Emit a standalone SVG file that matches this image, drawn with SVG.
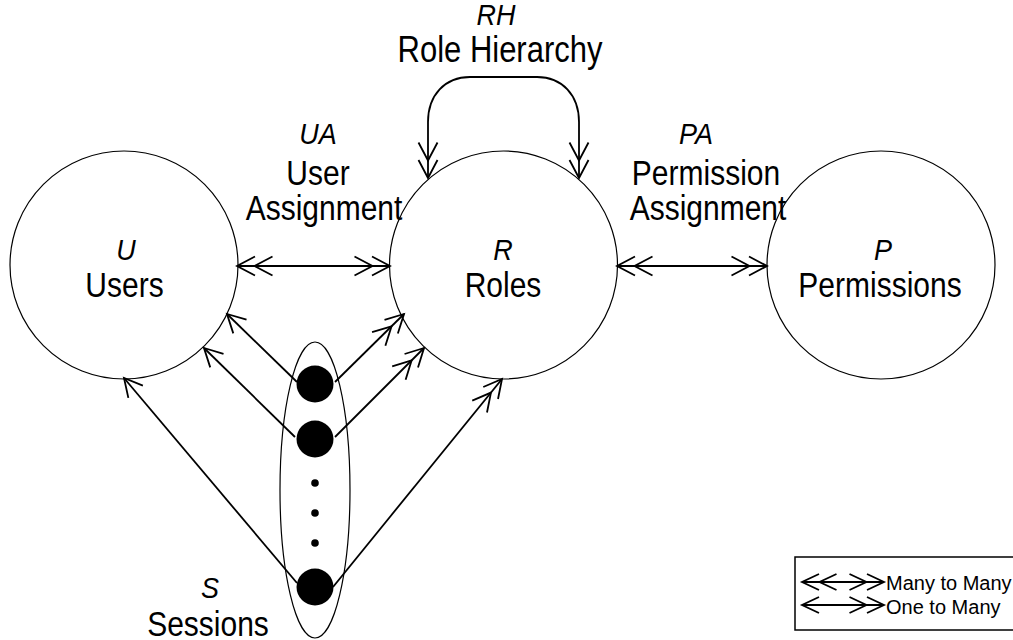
<svg xmlns="http://www.w3.org/2000/svg" width="1013" height="640" viewBox="0 0 1013 640">
  <style>
    .ent { fill: #fff; stroke: #000; stroke-width: 1.2; }
    .set { fill: none; stroke: #000; stroke-width: 1.2; }
    .con { fill: none; stroke: #000; stroke-width: 1.8; }
    .head { fill: none; stroke: #000; stroke-width: 1.8; }
    .name { font-family: "Liberation Sans", Arial, sans-serif; font-size: 30px; text-anchor: middle; fill: #000; }
    .abbr { font-family: "Liberation Sans", Arial, sans-serif; font-size: 27px; font-style: italic; text-anchor: middle; fill: #000; }
    .key { font-family: "Liberation Sans", Arial, sans-serif; font-size: 20px; fill: #000; }
    .dot { fill: #000; }
  </style>
  <defs>
    <!-- open chevron heads; tip sits on the path end -->
    <marker id="many" markerUnits="userSpaceOnUse" viewBox="-40 -12 42 24" refX="0" refY="0" markerWidth="42" markerHeight="24" orient="auto-start-reverse" overflow="visible">
      <path class="head" d="M-18,-9.5 L0,0 L-18,9.5 M-35.5,-9.5 L-17.5,0 L-35.5,9.5"/>
    </marker>
    <marker id="one" markerUnits="userSpaceOnUse" viewBox="-22 -12 24 24" refX="0" refY="0" markerWidth="24" markerHeight="24" orient="auto-start-reverse" overflow="visible">
      <path class="head" d="M-18,-9.5 L0,0 L-18,9.5"/>
    </marker>
    <marker id="manyS" markerUnits="userSpaceOnUse" viewBox="-40 -12 42 24" refX="0" refY="0" markerWidth="42" markerHeight="24" orient="auto-start-reverse" overflow="visible">
      <path class="head" d="M-17,-8 L0,0 L-17,8 M-34.5,-8 L-17.5,0 L-34.5,8"/>
    </marker>
    <marker id="oneS" markerUnits="userSpaceOnUse" viewBox="-22 -12 24 24" refX="0" refY="0" markerWidth="24" markerHeight="24" orient="auto-start-reverse" overflow="visible">
      <path class="head" d="M-17,-8 L0,0 L-17,8"/>
    </marker>
  </defs>

  <!-- entity sets -->
  <g id="users">
    <circle class="ent" cx="124" cy="265" r="114"/>
    <text class="abbr" transform="translate(126,260) scale(1,1.12)">U</text>
    <text class="name" transform="translate(124.5,297) scale(1,1.18)">Users</text>
  </g>
  <g id="roles">
    <circle class="ent" cx="503.5" cy="265" r="114"/>
    <text class="abbr" transform="translate(503,260) scale(1,1.12)">R</text>
    <text class="name" transform="translate(503,297) scale(1,1.18)">Roles</text>
  </g>
  <g id="permissions">
    <circle class="ent" cx="881" cy="265" r="114"/>
    <text class="abbr" transform="translate(883,260) scale(1,1.12)">P</text>
    <text class="name" transform="translate(880,297) scale(1,1.18)">Permissions</text>
  </g>
  <g id="sessions">
    <ellipse class="set" cx="315" cy="490" rx="35" ry="148"/>
    <text class="abbr" transform="translate(210,598) scale(1,1.12)">S</text>
    <text class="name" transform="translate(208,636) scale(1,1.18)">Sessions</text>
  </g>

  <!-- relation labels -->
  <g id="rh-label">
    <text class="abbr" transform="translate(496,25) scale(1,1.12)">RH</text>
    <text class="name" transform="translate(500,62) scale(1,1.18)" style="font-size:31px">Role Hierarchy</text>
  </g>
  <g id="ua-label">
    <text class="abbr" transform="translate(318,144) scale(1,1.12)">UA</text>
    <text class="name" transform="translate(318,185) scale(1,1.18)">User</text>
    <text class="name" transform="translate(324,220) scale(1,1.18)">Assignment</text>
  </g>
  <g id="pa-label">
    <text class="abbr" transform="translate(696,144) scale(1,1.12)">PA</text>
    <text class="name" transform="translate(706,185) scale(1,1.18)">Permission</text>
    <text class="name" transform="translate(708,220) scale(1,1.18)">Assignment</text>
  </g>

  <!-- connectors -->
  <g id="connectors">
    <path class="con" d="M428,178 V122 C428,95 445,77 470,77 H537 C562,77 579,95 579,122 V178" marker-start="url(#many)" marker-end="url(#many)"/>
    <path class="con" d="M237,266 H390" marker-start="url(#many)" marker-end="url(#many)"/>
    <path class="con" d="M617,266 H767" marker-start="url(#many)" marker-end="url(#many)"/>
    <path class="con" d="M297,382 L227,314" marker-end="url(#one)"/>
    <path class="con" d="M335,382 L404,314" marker-end="url(#many)"/>
    <path class="con" d="M295,437 L204,348" marker-end="url(#one)"/>
    <path class="con" d="M335,437 L424,348" marker-end="url(#many)"/>
    <path class="con" d="M297,583 L124,378" marker-end="url(#one)"/>
    <path class="con" d="M333,587 L502,379" marker-end="url(#many)"/>
  </g>

  <!-- individual sessions -->
  <g id="session-dots">
    <circle class="dot" cx="315" cy="384" r="18.5"/>
    <circle class="dot" cx="315" cy="439" r="18.5"/>
    <circle class="dot" cx="315" cy="483" r="3.8"/>
    <circle class="dot" cx="315" cy="513" r="3.8"/>
    <circle class="dot" cx="315" cy="543" r="3.8"/>
    <circle class="dot" cx="315" cy="587" r="18.5"/>
  </g>

  <!-- legend -->
  <g id="legend">
    <rect x="795" y="557" width="240" height="73" fill="#fff" stroke="#000" stroke-width="1.5"/>
    <path class="con" d="M802,582 H884" marker-start="url(#manyS)" marker-end="url(#manyS)"/>
    <path class="con" d="M802,605 H884" marker-start="url(#oneS)" marker-end="url(#manyS)"/>
    <text class="key" x="886" y="590">Many to Many</text>
    <text class="key" x="886" y="614">One to Many</text>
  </g>
</svg>
